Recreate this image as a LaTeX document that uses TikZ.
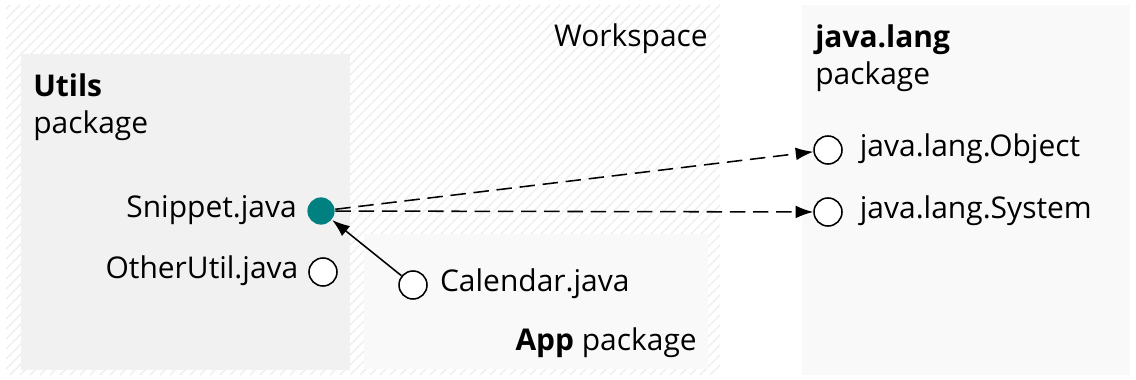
\documentclass[tikz,border=0pt]{standalone}
\usepackage{fontspec}
\setmainfont{Open Sans}
\usetikzlibrary{positioning,arrows.meta}
\definecolor{snipteal}{RGB}{0,128,128}
\definecolor{utilsgray}{RGB}{241,241,241}
\definecolor{pkggray}{RGB}{249,249,249}
\definecolor{hatchgray}{RGB}{236,236,236}
\tikzstyle{file} = [draw=black, fill=white, circle, line width=1.1pt, inner sep=0pt, minimum size=0.7cm]
\tikzstyle{used} = [draw=none, fill=snipteal, minimum size=0.68cm]
\tikzstyle{txt} = [inner sep=0pt, font=\fontsize{21.3pt}{26.5pt}\selectfont]
\tikzstyle{pkgtxt} = [txt, align=left, anchor=north west]
\tikzstyle{dep} = [line width=1.1pt, dash pattern=on 11pt off 5.5pt, -{Latex[length=0.44cm,width=0.32cm]}]
\tikzstyle{call} = [line width=1.1pt, -{Latex[length=0.44cm,width=0.32cm]}]

\begin{document}
\begin{tikzpicture}[x=0.025cm,y=-0.025cm]
  \useasboundingbox (0,0) rectangle (1136,380);
  % workspace background
  \begin{scope}
    \clip (6,5) rectangle (720,375);
    \foreach \i in {-380,-370,...,720}
      \draw[hatchgray, line width=0.9pt] (\i,375) -- ++(370,-370);
  \end{scope}
  \node[txt, anchor=base east] (ws) at (708,47) {Workspace};
  % packages
  \fill[utilsgray] (21,54) rectangle (350,370);
  \fill[pkggray] (364,234) rectangle (708,369);
  \fill[pkggray] (802,5) rectangle (1130,375);
  \node[pkgtxt] (utils) at (33,73) {\textbf{Utils}\\package};
  \node[pkgtxt] (lang) at (815,24) {\textbf{java.lang}\\package};
  \node[txt, anchor=base east] (app) at (697,350) {\textbf{App} package};
  % files
  \node[file,used] (snip) at (321,211) {};
  \node[file] (other) at (323,272) {};
  \node[file] (cal) at (413,285) {};
  \node[file] (obj) at (828,150) {};
  \node[file] (sys) at (828,212) {};
  \node[txt, left=0.24cm of snip, anchor=mid east, yshift=-2pt] (sniptxt) {Snippet.java};
  \node[txt, left=0.24cm of other, anchor=mid east, yshift=-2pt] (othertxt) {OtherUtil.java};
  \node[txt, right=0.3cm of cal, anchor=mid west, yshift=-2pt] (caltxt) {Calendar.java};
  \node[txt, right=0.42cm of obj, anchor=mid west, yshift=-2pt] (objtxt) {java.lang.Object};
  \node[txt, right=0.42cm of sys, anchor=mid west, yshift=-2pt] (systxt) {java.lang.System};
  % dependencies
  \draw[dep] (snip) -- (obj);
  \draw[dep] (snip) -- (sys);
  \draw[call] (cal) -- (snip);
\end{tikzpicture}
\end{document}
